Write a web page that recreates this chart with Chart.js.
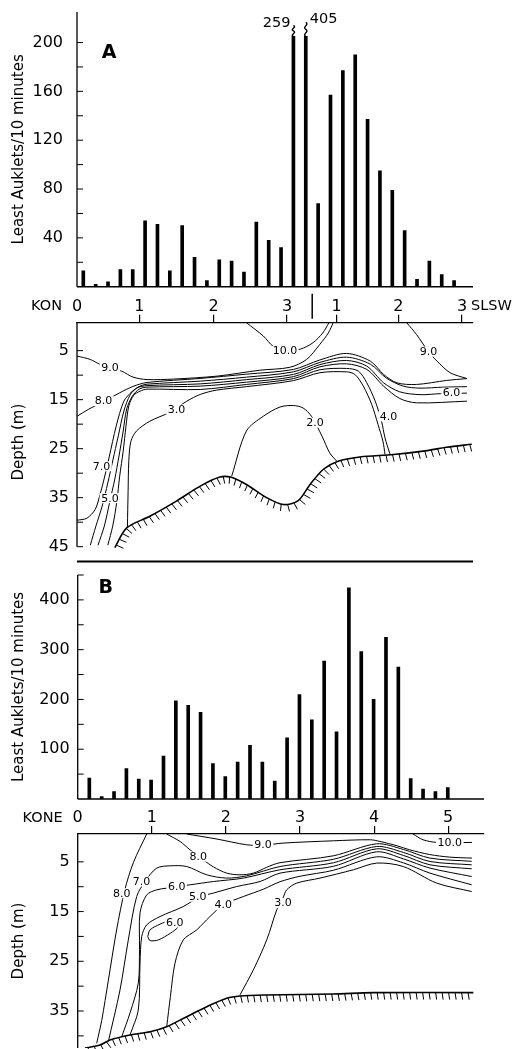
<!DOCTYPE html>
<html>
<head>
<meta charset="utf-8">
<title>Least Auklets and temperature sections</title>
<script src="https://cdn.jsdelivr.net/npm/chart.js@4.4.1/dist/chart.umd.min.js"></script>
<style>
  body { margin: 0; background: #fff; }
  #figure { position: relative; width: 520px; height: 1049px; overflow: hidden; }
  #figure canvas { position: absolute; left: 0; }
</style>
</head>
<body>
<div id="figure">
  <canvas id="bars-a" width="520" height="300" style="top:0"></canvas>
  <canvas id="section-a" width="520" height="275" style="top:290px"></canvas>
  <canvas id="bars-b" width="520" height="245" style="top:565px"></canvas>
  <canvas id="section-b" width="520" height="249" style="top:800px"></canvas>
</div>
<script>
// counts per 10-minute watch, in transect order
const STATIONS_A = [1, 2, 3, 4, 5, 6, 7, 8, 9, 10, 11, 12, 13, 14, 15, 16, 17, 18, 19, 20, 21, 22, 23, 24, 25, 26, 27, 28, 29, 30, 31];
const COUNTS_A = [13, 2, 4, 14, 14, 54, 51, 13, 50, 24, 5, 22, 21, 12, 53, 38, 32, 259, 405, 68, 157, 177, 190, 137, 95, 79, 46, 6, 21, 10, 5];
const STATIONS_B = [1, 2, 3, 4, 5, 6, 7, 8, 9, 10, 11, 12, 13, 14, 15, 16, 17, 18, 19, 20, 21, 22, 23, 24, 25, 26, 27, 28, 29, 30];
const COUNTS_B = [42, 5, 15, 61, 40, 38, 86, 197, 188, 174, 71, 45, 74, 108, 74, 36, 123, 210, 159, 277, 135, 424, 296, 200, 325, 265, 41, 20, 15, 23];
const BREAK_A = 205; // panel A bars above this are drawn broken, with their value written

const COUNT_TICKS_A = [20, 40, 60, 80, 100, 120, 140, 160, 180, 200];
const COUNT_LABELS_A = [40, 80, 120, 160, 200];
const COUNT_TICKS_B = [50, 100, 150, 200, 250, 300, 350, 400, 450];
const COUNT_LABELS_B = [100, 200, 300, 400];

// distance along transect (km); A joins KON and SLSW legs
const KM_TICKS_A = [0, 0.89, 1.95, 3, 3.71, 4.59, 5.5];
const KM_LABELS_A = ['0', '1', '2', '3', '1', '2', '3'];
const LEG_JOIN_A = 3.36;
const KM_TICKS_B = [0, 1, 2, 3, 4, 5];
const KM_LABELS_B = ['0', '1', '2', '3', '4', '5'];

const DEPTH_TICKS_A = [5, 10, 15, 20, 25, 30, 35, 40, 45];
const DEPTH_LABELS_A = [5, 15, 25, 35, 45];
const DEPTH_TICKS_B = [5, 10, 15, 20, 25, 30, 35, 40];
const DEPTH_LABELS_B = [5, 15, 25, 35];

// isotherms, section A  [km, depth m]
const A_T10 = [[2.42, -0.7], [2.66, 2.0], [2.80, 4.1], [2.96, 5.1], [3.19, 4.7], [3.37, 3.4], [3.51, 1.4], [3.60, -0.7]];
const A_T9W = [[0, 6.1], [0.19, 6.8], [0.33, 7.8], [0.64, 9.2], [0.80, 10.4], [1.0, 10.9], [1.38, 10.8], [2.0, 10.2], [2.61, 9.0], [3.04, 8.4], [3.28, 6.8], [3.47, 3.7], [3.59, 1.4], [3.66, -0.7]];
const A_T9E = [[4.71, -0.7], [4.85, 1.7], [5.02, 5.2], [5.14, 7.1], [5.33, 9.5], [5.57, 10.7]];
const A_T8 = [[0, 18.4], [0.16, 17.0], [0.38, 15.4], [0.61, 13.6], [0.80, 12.3], [1.0, 11.5], [1.76, 10.67], [2.42, 9.8], [3.09, 8.84], [3.47, 6.9], [3.85, 5.57], [4.19, 7.14], [4.38, 9.86], [4.57, 11.57], [4.85, 11.9], [5.28, 11.08], [5.57, 10.7]];
const A_T7 = [[0, 39.6], [0.14, 39.2], [0.26, 37.4], [0.33, 34.3], [0.39, 31.0], [0.46, 26.7], [0.56, 20.4], [0.67, 15.3], [0.79, 13.3], [0.90, 12.25], [1.0, 11.84], [1.76, 11.22], [2.42, 10.41], [3.09, 9.33], [3.47, 7.4], [3.85, 6.33], [4.19, 7.76], [4.42, 10.61], [4.66, 12.24], [4.9, 12.65], [5.23, 12.45], [5.57, 12.35]];
const A_T6 = [[0.19, 44.7], [0.27, 40.8], [0.36, 36.7], [0.44, 32.0], [0.51, 27.5], [0.59, 22.4], [0.67, 17.3], [0.76, 14.0], [0.86, 12.6], [1.0, 12.14], [1.76, 11.78], [2.42, 10.92], [3.09, 9.86], [3.47, 7.85], [3.85, 7.0], [4.14, 8.16], [4.38, 11.57], [4.61, 13.4], [4.9, 13.98], [5.19, 13.78], [5.57, 13.67]];
const A_T5 = [[0.30, 44.7], [0.39, 40.8], [0.47, 35.7], [0.54, 31.2], [0.60, 26.5], [0.66, 21.4], [0.71, 16.9], [0.79, 14.3], [0.89, 12.85], [1.0, 12.45], [1.76, 12.24], [2.42, 11.43], [3.09, 10.31], [3.47, 8.3], [3.85, 7.69], [4.14, 8.84], [4.38, 12.24], [4.61, 14.76], [4.85, 15.65], [5.57, 15.31]];
const A_T4 = [[0.44, 44.7], [0.51, 40.8], [0.57, 35.7], [0.61, 30.6], [0.66, 25.5], [0.70, 20.4], [0.74, 16.3], [0.81, 14.1], [0.90, 13.27], [1.0, 12.86], [1.76, 12.92], [2.42, 11.9], [3.09, 10.71], [3.47, 8.9], [3.85, 8.63], [4.02, 9.18], [4.14, 11.57], [4.26, 15.31], [4.35, 19.39], [4.40, 22.8], [4.47, 26.06]];
const A_T3 = [[0.72, 41.0], [0.73, 33.7], [0.74, 27.5], [0.77, 23.5], [0.85, 21.4], [1.04, 19.4], [1.33, 17.55], [1.57, 15.3], [1.76, 13.94], [1.99, 13.06], [2.42, 12.35], [3.09, 11.12], [3.47, 9.5], [3.85, 9.33], [3.97, 9.86], [4.09, 12.24], [4.21, 15.98], [4.30, 20.06], [4.37, 23.47], [4.40, 26.18]];
const A_T2 = [[2.21, 30.6], [2.42, 21.4], [2.66, 18.4], [2.90, 16.5], [3.09, 16.2], [3.23, 16.7], [3.35, 18.4], [3.50, 22.45], [3.61, 25.86], [3.71, 27.55]];
const A_BOTTOM = [[0.54, 45.2], [0.71, 41.16], [1.04, 38.8], [1.42, 35.7], [1.76, 32.65], [2.04, 30.8], [2.19, 30.8], [2.42, 32.3], [2.71, 35.0], [2.95, 36.4], [3.16, 35.6], [3.33, 32.3], [3.52, 29.2], [3.73, 27.55], [4.04, 26.7], [4.52, 26.2], [5.0, 25.4], [5.28, 24.7], [5.64, 24.1]];
const A_ISO_LABELS = [[0.47, 8.4, '9.0'], [2.97, 5.1, '10.0'], [5.02, 5.2, '9.0'], [0.38, 15.3, '8.0'], [1.42, 17.0, '3.0'], [3.40, 19.7, '2.0'], [4.45, 18.4, '4.0'], [5.35, 13.6, '6.0'], [0.35, 28.6, '7.0'], [0.47, 35.1, '5.0']];

// isotherms, section B  [km, depth m]
const B_T10 = [[4.525, -0.6], [4.66, 0.56], [4.85, 1.1], [5.32, 1.1]];
const B_T9 = [[1.47, -0.6], [1.88, 0.42], [2.28, 1.57], [2.5, 1.67], [2.77, 1.23], [3.45, 0.77], [3.95, 0.56], [4.08, 0.9], [4.31, 1.77], [4.48, 2.58], [4.75, 3.53], [5.02, 4.05], [5.32, 4.25]];
const B_T8W = [[0.931, -0.6], [0.75, 5.2], [0.636, 10.63], [0.525, 18.7], [0.414, 28.8], [0.324, 36.9], [0.256, 41.5]];
const B_T8 = [[1.2, -0.6], [1.381, 0.9], [1.516, 2.58], [1.695, 4.6], [1.83, 6.0], [2.011, 7.27], [2.19, 7.61], [2.37, 7.27], [2.55, 6.1], [2.73, 5.17], [3.449, 3.79], [4.035, 1.37], [4.394, 2.5], [4.754, 4.25], [5.317, 4.89]];
const B_T7 = [[0.413, 41.17], [0.571, 30.76], [0.683, 20.7], [0.796, 11.98], [0.908, 8.96], [1.066, 6.26], [1.251, 5.8], [1.471, 5.94], [1.741, 7.61], [2.011, 8.27], [2.281, 7.81], [2.73, 5.94], [3.449, 4.49], [4.035, 1.91], [4.394, 3.1], [4.754, 4.93], [5.317, 5.6]];
const B_T6 = [[0.594, 40.16], [0.706, 35.39], [0.818, 29.35], [0.834, 22.6], [0.841, 15.26], [0.931, 11.64], [1.066, 10.63], [1.201, 10.29], [1.516, 9.62], [1.83, 8.96], [2.235, 8.27], [2.73, 6.6], [3.449, 5.19], [4.035, 2.38], [4.394, 3.7], [4.754, 5.6], [5.317, 6.4]];
const B_T6LOOP = [[0.945, 20.03], [0.976, 18.68], [1.111, 17.54], [1.251, 16.81], [1.336, 17.01], [1.358, 18.02], [1.251, 19.35], [1.088, 20.7], [0.976, 20.84], [0.945, 20.03]];
const B_T5 = [[0.706, 39.82], [0.818, 34.79], [0.841, 25.33], [0.864, 20.03], [0.931, 17.68], [1.111, 16.0], [1.425, 13.99], [1.65, 12.0], [1.83, 11.29], [2.146, 9.97], [2.46, 8.96], [2.73, 7.27], [3.449, 5.9], [4.035, 2.98], [4.394, 4.4], [4.754, 6.26], [5.317, 7.95]];
const B_T4 = [[1.201, 38.15], [1.251, 32.11], [1.313, 25.39], [1.425, 20.7], [1.606, 18.68], [1.785, 16.0], [1.965, 13.65], [2.235, 11.98], [2.505, 10.5], [2.73, 9.0], [3.0, 7.9], [3.449, 6.7], [4.035, 3.99], [4.394, 5.2], [4.754, 7.27], [5.317, 9.62]];
const B_T3 = [[2.19, 31.77], [2.37, 26.74], [2.551, 20.7], [2.686, 14.66], [2.77, 12.3], [2.82, 10.63], [2.955, 9.28], [3.27, 8.27], [3.719, 6.6], [4.035, 5.25], [4.394, 5.94], [4.845, 9.28], [5.317, 10.97]];
const B_BOTTOM = [[0.099, 42.44], [0.301, 41.84], [0.436, 40.83], [0.706, 39.82], [0.976, 39.16], [1.201, 38.15], [1.471, 36.14], [1.741, 34.13], [2.011, 32.43], [2.19, 31.97], [2.551, 31.77], [3.449, 31.57], [3.989, 31.31], [5.339, 31.31]];
const B_ISO_LABELS = [[0.594, 11.3, '8.0'], [1.628, 3.93, '8.0'], [2.5, 1.57, '9.0'], [5.02, 1.1, '10.0'], [0.86, 8.96, '7.0'], [1.336, 9.97, '6.0'], [1.62, 12.0, '5.0'], [1.31, 17.2, '6.0'], [1.965, 13.65, '4.0'], [2.77, 13.3, '3.0']];

Chart.defaults.font.family = '"DejaVu Sans", sans-serif';
Chart.defaults.color = '#000';

function axisFrame(cfg) {
  return {
    id: 'axisFrame',
    afterDraw(chart) {
      const { ctx, chartArea: area, scales: { x, y } } = chart;
      ctx.save();
      ctx.strokeStyle = '#000';
      ctx.fillStyle = '#000';
      ctx.lineWidth = 1.3;
      ctx.beginPath();
      ctx.moveTo(area.left, y.getPixelForValue(cfg.axisFrom));
      ctx.lineTo(area.left, y.getPixelForValue(cfg.axisTo));
      ctx.stroke();

      // ticks point into the plot
      ctx.lineWidth = 1;
      ctx.beginPath();
      y.ticks.forEach((t) => {
        const py = y.getPixelForValue(t.value);
        ctx.moveTo(area.left, py);
        ctx.lineTo(area.left + 6, py);
      });
      ctx.stroke();

      if (cfg.baseline) {
        const py = y.getPixelForValue(0);
        ctx.lineWidth = 1.4;
        ctx.beginPath();
        ctx.moveTo(area.left, py);
        ctx.lineTo(area.right, py);
        ctx.stroke();
      }
      if (cfg.floorLine !== undefined) {
        const py = y.getPixelForValue(cfg.floorLine);
        ctx.lineWidth = 2;
        ctx.beginPath();
        ctx.moveTo(area.left, py);
        ctx.lineTo(area.right, py);
        ctx.stroke();
      }
      if (cfg.legJoin !== undefined) {
        const px = x.getPixelForValue(cfg.legJoin);
        ctx.lineWidth = 1.5;
        ctx.beginPath();
        ctx.moveTo(px, area.top - 29);
        ctx.lineTo(px, area.top - 4);
        ctx.stroke();
      }
      ctx.textBaseline = 'middle';
      if (cfg.startName) {
        ctx.font = '14.5px "DejaVu Sans"';
        ctx.textAlign = 'right';
        ctx.fillText(cfg.startName, x.getPixelForValue(0) - 15, area.top - 16);
      }
      if (cfg.endName) {
        ctx.font = '14.5px "DejaVu Sans"';
        ctx.textAlign = 'left';
        ctx.fillText(cfg.endName, x.getPixelForValue(cfg.endAt) + 9, area.top - 16);
      }
      if (cfg.letter) {
        ctx.font = 'bold 19px "DejaVu Sans"';
        ctx.textAlign = 'center';
        ctx.fillText(cfg.letter, area.left + cfg.letterDx, area.top + cfg.letterDy);
      }
      ctx.restore();
    }
  };
}

function breakMarks(counts, breakAt) {
  return {
    id: 'breakMarks',
    afterDatasetsDraw(chart) {
      const { ctx } = chart;
      const bars = chart.getDatasetMeta(0).data;
      let n = 0;
      ctx.save();
      ctx.strokeStyle = '#000';
      ctx.fillStyle = '#000';
      ctx.lineWidth = 1.4;
      ctx.font = '14.5px "DejaVu Sans"';
      ctx.textBaseline = 'alphabetic';
      counts.forEach((v, i) => {
        if (v <= breakAt) return;
        const { x, y } = bars[i];
        const h = 11 + n * 3;
        ctx.beginPath();
        ctx.moveTo(x, y);
        ctx.bezierCurveTo(x - 4, y - h * 0.15, x + 4, y - h * 0.35, x, y - h * 0.5);
        ctx.bezierCurveTo(x - 4, y - h * 0.65, x + 4, y - h * 0.85, x, y - h);
        ctx.stroke();
        if (n === 0) {
          ctx.textAlign = 'right';
          ctx.fillText(String(v), x - 3, y - 9);
        } else {
          ctx.textAlign = 'left';
          ctx.fillText(String(v), x + 4, y - 13);
        }
        n++;
      });
      ctx.restore();
    }
  };
}

function isoLabels(items) {
  return {
    id: 'isoLabels',
    afterDatasetsDraw(chart) {
      const { ctx, scales: { x, y } } = chart;
      ctx.save();
      ctx.font = '11px "DejaVu Sans"';
      ctx.textAlign = 'center';
      ctx.textBaseline = 'middle';
      items.forEach(([km, depth, text]) => {
        const px = x.getPixelForValue(km);
        const py = y.getPixelForValue(depth);
        const w = ctx.measureText(text).width;
        ctx.fillStyle = '#fff';
        ctx.fillRect(px - w / 2 - 1.5, py - 5, w + 3, 10);
        ctx.fillStyle = '#000';
        ctx.fillText(text, px, py + 0.5);
      });
      ctx.restore();
    }
  };
}

// short strokes hung below the sea-floor line, following the drawn curve
const bottomHatch = {
  id: 'bottomHatch',
  afterDatasetsDraw(chart) {
    const { ctx } = chart;
    chart.data.datasets.forEach((ds, i) => {
      if (!ds.hatch) return;
      const pts = chart.getDatasetMeta(i).data;
      const path = [];
      for (let k = 0; k < pts.length - 1; k++) {
        const a = pts[k];
        const b = pts[k + 1];
        const c1x = a.cp2x ?? a.x, c1y = a.cp2y ?? a.y;
        const c2x = b.cp1x ?? b.x, c2y = b.cp1y ?? b.y;
        for (let s = 0; s < 24; s++) {
          const t = s / 24, u = 1 - t;
          path.push([
            u * u * u * a.x + 3 * u * u * t * c1x + 3 * u * t * t * c2x + t * t * t * b.x,
            u * u * u * a.y + 3 * u * u * t * c1y + 3 * u * t * t * c2y + t * t * t * b.y
          ]);
        }
      }
      const last = pts[pts.length - 1];
      path.push([last.x, last.y]);

      ctx.save();
      ctx.strokeStyle = '#000';
      ctx.lineWidth = 1;
      ctx.beginPath();
      let acc = 3;
      for (let k = 1; k < path.length; k++) {
        const [x0, y0] = path[k - 1];
        const [x1, y1] = path[k];
        const seg = Math.hypot(x1 - x0, y1 - y0);
        if (!seg) continue;
        const tx = (x1 - x0) / seg, ty = (y1 - y0) / seg;
        while (acc <= seg) {
          const px = x0 + tx * acc, py = y0 + ty * acc;
          ctx.moveTo(px, py);
          ctx.lineTo(px - ty * 7 + 1, py + tx * 7);
          acc += 6.5;
        }
        acc -= seg;
      }
      ctx.stroke();
      ctx.restore();
    });
  }
};

function barChart(id, stations, counts, cfg) {
  return new Chart(document.getElementById(id), {
    type: 'bar',
    data: {
      labels: stations,
      datasets: [{
        data: counts.map((v) => Math.min(v, cfg.breakAt)),
        backgroundColor: '#000',
        borderWidth: 0,
        barThickness: 3
      }]
    },
    options: {
      responsive: false,
      animation: false,
      events: [],
      layout: { padding: cfg.padding },
      plugins: { legend: { display: false }, tooltip: { enabled: false } },
      scales: {
        x: { type: 'linear', display: false, min: cfg.xMin, max: cfg.xMax, offset: false },
        y: {
          min: 0,
          max: cfg.yMax,
          afterFit: (s) => { s.width = cfg.axisWidth; s.paddingTop = 0; s.paddingBottom = 0; },
          afterBuildTicks: (s) => { s.ticks = cfg.ticks.map((v) => ({ value: v })); },
          grid: { display: false, drawTicks: false },
          border: { display: false },
          ticks: {
            padding: cfg.labelPad,
            font: { size: 16 },
            color: '#000',
            callback: (v) => (cfg.labels.includes(v) ? String(v) : '')
          },
          title: { display: true, text: 'Least Auklets/10 minutes', font: { size: 15 }, color: '#000', padding: { top: 10, bottom: 0 } }
        }
      }
    },
    plugins: [axisFrame(cfg.frame), breakMarks(counts, cfg.breakAt)]
  });
}

function line(points, width) {
  return {
    data: points.map(([x, y]) => ({ x, y })),
    showLine: true,
    borderColor: '#000',
    borderWidth: width,
    pointRadius: 0,
    tension: 0.3,
    fill: false
  };
}

function sectionChart(id, isotherms, bottom, labels, cfg) {
  const floor = line(bottom, 1.6);
  floor.hatch = true;
  return new Chart(document.getElementById(id), {
    type: 'scatter',
    data: { datasets: [...isotherms.map((pts) => line(pts, 1)), floor] },
    options: {
      responsive: false,
      animation: false,
      events: [],
      layout: { padding: cfg.padding },
      plugins: { legend: { display: false }, tooltip: { enabled: false } },
      scales: {
        x: {
          type: 'linear',
          position: 'top',
          min: 0,
          max: cfg.xMax,
          afterFit: (s) => { s.height = cfg.axisHeight; s.paddingLeft = 0; s.paddingRight = 0; },
          afterBuildTicks: (s) => { s.ticks = cfg.kmTicks.map((v) => ({ value: v })); },
          grid: {
            drawOnChartArea: false,
            drawTicks: true,
            tickLength: 8,
            lineWidth: 1.2,
            color: (c) => (c.index === 0 ? 'rgba(0,0,0,0)' : '#000')
          },
          border: { display: true, color: '#000', width: 1.3 },
          ticks: {
            autoSkip: false,
            maxRotation: 0,
            padding: 0,
            font: { size: 16, lineHeight: 1 },
            color: '#000',
            callback: (v, i) => cfg.kmLabels[i]
          }
        },
        y: {
          type: 'linear',
          reverse: true,
          min: cfg.yMin,
          max: cfg.yMax,
          afterFit: (s) => { s.width = cfg.axisWidth; s.paddingTop = 0; s.paddingBottom = 0; },
          afterBuildTicks: (s) => { s.ticks = cfg.depthTicks.map((v) => ({ value: v })); },
          grid: { display: false, drawTicks: false },
          border: { display: false },
          ticks: {
            padding: 8,
            font: { size: 16 },
            color: '#000',
            callback: (v) => (cfg.depthLabels.includes(v) ? String(v) : '')
          },
          title: { display: true, text: 'Depth (m)', font: { size: 15 }, color: '#000', padding: { top: 10, bottom: 0 } }
        }
      }
    },
    plugins: [bottomHatch, isoLabels(labels), axisFrame(cfg.frame)]
  });
}

barChart('bars-a', STATIONS_A, COUNTS_A, {
  padding: { top: 12, right: 47, bottom: 13.3, left: 0 },
  axisWidth: 77, xMin: 0.49, xMax: 32.53, yMax: 225, breakAt: BREAK_A,
  ticks: COUNT_TICKS_A, labels: COUNT_LABELS_A, labelPad: 14,
  frame: { axisFrom: 0, axisTo: 225, baseline: true, letter: 'A', letterDx: 32, letterDy: 41 }
});

sectionChart('section-a',
  [A_T10, A_T9W, A_T9E, A_T8, A_T7, A_T6, A_T5, A_T4, A_T3, A_T2],
  A_BOTTOM, A_ISO_LABELS, {
    padding: { top: 0, right: 47, bottom: 3.6, left: 0 },
    axisWidth: 77, axisHeight: 32.7, xMax: 5.657, yMin: -0.7, yMax: 48,
    kmTicks: KM_TICKS_A, kmLabels: KM_LABELS_A,
    depthTicks: DEPTH_TICKS_A, depthLabels: DEPTH_LABELS_A,
    frame: { axisFrom: -0.7, axisTo: 45, floorLine: 48, legJoin: LEG_JOIN_A, startName: 'KON', endName: 'SLSW', endAt: 5.5 }
  });

barChart('bars-b', STATIONS_B, COUNTS_B, {
  padding: { top: 10, right: 36, bottom: 11, left: 0 },
  axisWidth: 77.7, xMin: 0.06, xMax: 32.93, yMax: 450, breakAt: Infinity,
  ticks: COUNT_TICKS_B, labels: COUNT_LABELS_B, labelPad: 8,
  frame: { axisFrom: 0, axisTo: 450, baseline: true, letter: 'B', letterDx: 28, letterDy: 13 }
});

sectionChart('section-b',
  [B_T10, B_T9, B_T8W, B_T8, B_T7, B_T6, B_T6LOOP, B_T5, B_T4, B_T3],
  B_BOTTOM, B_ISO_LABELS, {
    padding: { top: 0, right: 36, bottom: 1, left: 0 },
    axisWidth: 77.7, axisHeight: 34, xMax: 5.483, yMin: -0.6, yMax: 42.44,
    kmTicks: KM_TICKS_B, kmLabels: KM_LABELS_B,
    depthTicks: DEPTH_TICKS_B, depthLabels: DEPTH_LABELS_B,
    frame: { axisFrom: -0.6, axisTo: 42.44, startName: 'KONE' }
  });
</script>
</body>
</html>
